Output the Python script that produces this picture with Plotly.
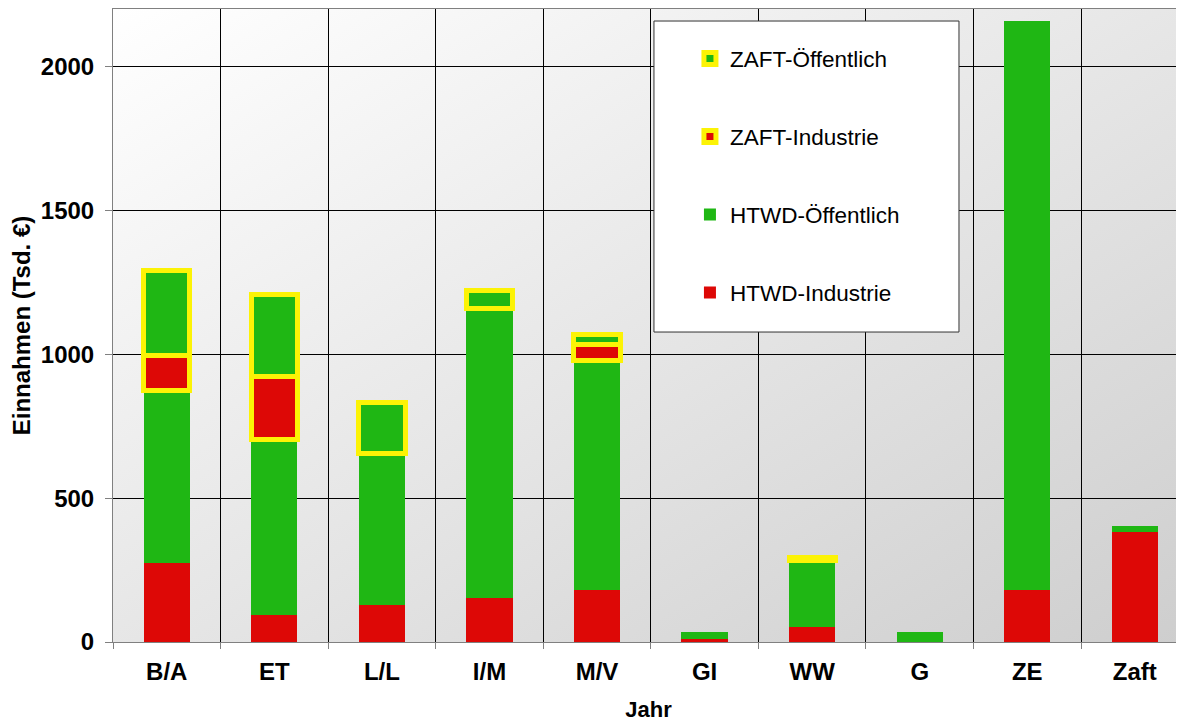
import base64
import plotly.graph_objects as go

categories = ["B/A", "ET", "L/L", "I/M", "M/V", "GI", "WW", "G", "ZE", "Zaft"]
htwd_industrie = [274, 94, 129, 153, 181, 10, 53, 0, 181, 383]
htwd_oeffentlich = [601, 611, 527, 1005, 797, 26, 229, 35, 1976, 20]
zaft_industrie = [122, 218, None, None, 57, None, None, None, None, None]
zaft_oeffentlich = [295, 286, 177, 64, 35, None, 10, None, None, None]

y_ticks = [0, 500, 1000, 1500, 2000]

RED = "#DD0806"
GREEN = "#1FB714"
YELLOW = "#FCF305"
FONT = "Arial, Liberation Sans, sans-serif"

fig = go.Figure()
series = [
    ("HTWD-Industrie", htwd_industrie, RED, None, 4),
    ("HTWD-Öffentlich", htwd_oeffentlich, GREEN, None, 3),
    ("ZAFT-Industrie", zaft_industrie, RED, YELLOW, 2),
    ("ZAFT-Öffentlich", zaft_oeffentlich, GREEN, YELLOW, 1),
]
for name, vals, col, border, rank in series:
    fig.add_trace(go.Bar(
        x=categories, y=vals, name=name, width=0.43,
        legendgroup=name, legendrank=rank,
        marker=dict(color=col,
                    line=dict(color=border if border else col, width=5 if border else 0)),
    ))

svg = ('<svg xmlns="http://www.w3.org/2000/svg" width="200" height="200" '
       'preserveAspectRatio="none"><defs><linearGradient id="g" x1="0" y1="0" x2="1" y2="1">'
       '<stop offset="0" stop-color="#ffffff"/><stop offset="1" stop-color="#cecece"/>'
       '</linearGradient></defs><rect width="200" height="200" fill="url(#g)"/></svg>')
src = "data:image/svg+xml;base64," + base64.b64encode(svg.encode()).decode()

# page body has an 8px margin, so the figure is sized to fill the rest of the window
fig.update_layout(
    width=1176, height=714,
    margin=dict(l=105, r=0, t=1, b=80, autoexpand=False),
    paper_bgcolor="white",
    plot_bgcolor="rgba(0,0,0,0)",
    barmode="stack",
    bargap=0.57,
    font=dict(family=FONT, color="black"),
    images=[dict(source=src, xref="paper", yref="paper", x=0, y=1, sizex=1, sizey=1,
                 sizing="stretch", layer="below", xanchor="left", yanchor="top")],
    shapes=[dict(type="rect", xref="paper", yref="paper", x0=0.5051, x1=0.7899,
                 y0=0.4897, y1=0.981, fillcolor="white",
                 line=dict(color="#333333", width=1), layer="above")],
    legend=dict(
        traceorder="grouped", tracegroupgap=45.7,
        x=0.5387, y=0.955, xanchor="left", yanchor="top",
        bgcolor="rgba(0,0,0,0)", borderwidth=0,
        font=dict(size=22.5, family=FONT, color="black"),
    ),
    xaxis=dict(
        type="category", range=[-0.5, 9.457], automargin=False,
        tickson="boundaries", ticks="outside", ticklen=6, tickcolor="#808080",
        showgrid=True, gridcolor="black", gridwidth=1,
        showline=True, linecolor="#808080", linewidth=1, mirror=True,
        tickfont=dict(size=24, family=FONT, weight="bold"),
        ticklabelstandoff=8,
        title=dict(text="Jahr", font=dict(size=22, family=FONT, weight="bold"), standoff=19),
    ),
    yaxis=dict(
        range=[0, 2200], tickvals=y_ticks, automargin=False,
        ticks="outside", ticklen=7, tickcolor="#808080",
        showgrid=True, gridcolor="black", gridwidth=1, zeroline=False,
        showline=True, linecolor="#808080", linewidth=1,
        tickfont=dict(size=24, family=FONT, weight="bold"),
        ticklabelstandoff=6,
        title=dict(text="Einnahmen (Tsd. €)", font=dict(size=24, family=FONT, weight="bold"),
                   standoff=9),
    ),
)

fig.write_html("out.html")
